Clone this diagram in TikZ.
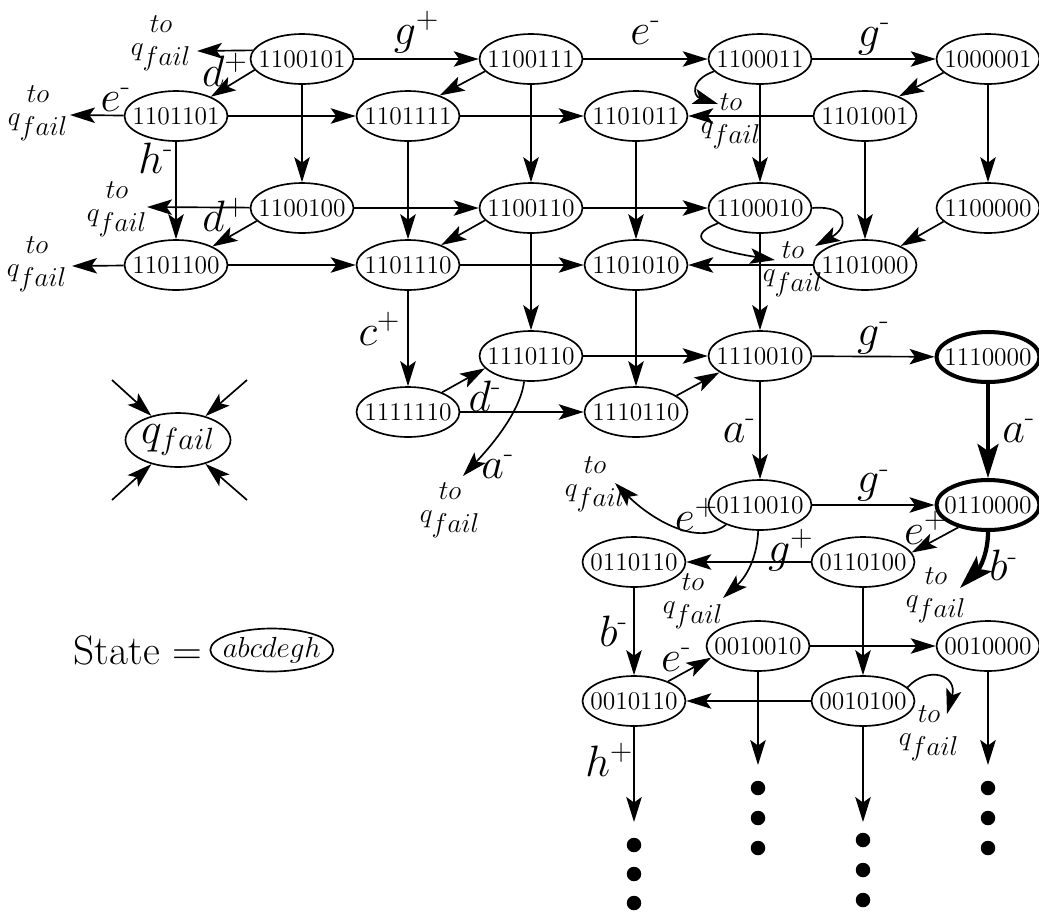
\RequirePackage{fix-cm}
\documentclass[tikz,border=0pt]{standalone}
\usepackage{amsmath}
\usepackage{tikz}
\usetikzlibrary{shapes.geometric, arrows.meta, positioning}
\newcommand{\qfail}{q_{\textstyle fail}}
\newcommand{\supminus}{\text{-}}

\begin{document}
\begin{tikzpicture}[
    x=0.02cm, y=-0.02cm,
    every node/.style={font=\fontsize{14.5}{16}\selectfont},
    state/.style={draw, ellipse, line width=0.95pt, minimum width=2.06cm, minimum height=1cm, inner xsep=-5pt, inner ysep=0pt},
    heavy/.style={state, line width=2.3pt},
    lbl/.style={font=\fontsize{25}{28}\selectfont, inner sep=0pt},
    fl/.style={align=center, font=\fontsize{15.5}{13.5}\selectfont, inner sep=0pt},
    arrow/.style={-{Stealth[length=5mm, width=3.1mm, inset=1.1mm]}, line width=0.95pt},
    bold arrow/.style={-{Stealth[length=6.8mm, width=4.2mm, inset=1.4mm]}, line width=2.4pt}
]
    \useasboundingbox (0,0) rectangle (1039,914);

    % Row 1
    \node[state] (n1100101) at (302,59) {1100101};
    \node[state] (n1100111) at (531,59) {1100111};
    \node[state] (n1100011) at (760,59) {1100011};
    \node[state] (n1000001) at (988,59) {1000001};

    % Row 2
    \node[state] (n1101101) at (176,116) {1101101};
    \node[state] (n1101111) at (408,116) {1101111};
    \node[state] (n1101011) at (636,116) {1101011};
    \node[state] (n1101001) at (865,116) {1101001};

    % Row 3
    \node[state] (n1100100) at (302,208) {1100100};
    \node[state] (n1100110) at (531,208) {1100110};
    \node[state] (n1100010) at (760,208) {1100010};
    \node[state] (n1100000) at (988,208) {1100000};

    % Row 4
    \node[state] (n1101100) at (176,265) {1101100};
    \node[state] (n1101110) at (408,265) {1101110};
    \node[state] (n1101010) at (636,265) {1101010};
    \node[state] (n1101000) at (865,265) {1101000};

    % Rows 5 and 6
    \node[state] (n1110110) at (531,356) {1110110};
    \node[state] (n1110010) at (760,356) {1110010};
    \node[heavy] (n1110000) at (988,357) {1110000};
    \node[state] (n1111110) at (408,412) {1111110};
    \node[state] (m1110110) at (636,412) {1110110};

    % Rows 7 and 8
    \node[state] (n0110010) at (760,505) {0110010};
    \node[heavy] (n0110000) at (988,505) {0110000};
    \node[state] (n0110110) at (634,562) {0110110};
    \node[state] (n0110100) at (863,562) {0110100};

    % Rows 9 and 10
    \node[state] (n0010010) at (758,646) {0010010};
    \node[state] (n0010000) at (988,646) {0010000};
    \node[state] (n0010110) at (634,701) {0010110};
    \node[state] (n0010100) at (863,701) {0010100};

    % Fail state and legend
    \node[state, minimum width=2.1cm, minimum height=1.08cm, font=\fontsize{25}{28}\selectfont] (qf) at (178,440) {$q_{fail}$};
    \coordinate (qa) at (112,380);
    \coordinate (qb) at (247,380);
    \coordinate (qc) at (112,500);
    \coordinate (qd) at (247,500);
    \node[font=\fontsize{23.5}{26}\selectfont, inner sep=0pt] (stxt) at (138,650) {State =};
    \node[state, right=4pt of stxt, minimum width=2.46cm, minimum height=0.86cm, font=\fontsize{16.5}{18}\selectfont] (sfmt) {$abcdegh$};

    % "to q_fail" ends
    \coordinate (f1) at (197,51);
    \coordinate (f2) at (70,115);
    \coordinate (f3) at (718,104);
    \coordinate (f4) at (147,207);
    \coordinate (f5) at (72,266);
    \coordinate (f6a) at (815,246);
    \coordinate (f6b) at (775,260);
    \coordinate (f7) at (463,476);
    \coordinate (f8) at (615,483);
    \coordinate (f9) at (723,598);
    \coordinate (f10) at (960,588);
    \coordinate (f11) at (947,714);
    \node[fl] (t1) at (161,43) {$to$\\$\qfail$};
    \node[fl] (t2) at (38,113) {$to$\\$\qfail$};
    \node[fl] (t3) at (731,121) {$to$\\$\qfail$};
    \node[fl] (t4) at (117,209) {$to$\\$\qfail$};
    \node[fl] (t5) at (37,264) {$to$\\$\qfail$};
    \node[fl] (t6) at (793,269) {$to$\\$\qfail$};
    \node[fl] (t7) at (450,510) {$to$\\$\qfail$};
    \node[fl] (t8) at (595,484) {$to$\\$\qfail$};
    \node[fl] (t9) at (693,601) {$to$\\$\qfail$};
    \node[fl] (t10) at (936,595) {$to$\\$\qfail$};
    \node[fl] (t11) at (929,733) {$to$\\$\qfail$};

    % Continuation ends
    \coordinate (d1) at (634,822);
    \coordinate (d2) at (758,765);
    \coordinate (d3) at (863,822);
    \coordinate (d4) at (988,765);
    \foreach \x/\y in {634/845, 634/874, 634/903, 758/788, 758/818, 758/848, 863/840, 863/870, 863/900, 988/788, 988/818, 988/848}
        \fill (\x,\y) circle[radius=0.145cm];

    % Arrows, row 1
    \draw[arrow] (n1100101) -- node[lbl, above=3pt] {$g^{+}$} (n1100111);
    \draw[arrow] (n1100111) -- node[lbl, above=8pt] {$e^{\supminus}$} (n1100011);
    \draw[arrow] (n1100011) -- node[lbl, above=2pt] {$g^{\supminus}$} (n1000001);
    \draw[arrow] (n1100101.170) -- node[lbl, below=1pt] {$d^{+}$} (f1);
    \draw[arrow] (n1100101.193) -- (n1101101.29);
    \draw[arrow] (n1100101) -- (n1100100);
    \draw[arrow] (n1100111.195) -- (n1101111.33);
    \draw[arrow] (n1100111) -- (n1100110);
    \draw[arrow] (n1100011) -- (n1100010);
    \draw[arrow] (n1100011.195) .. controls (690,80) and (693,96) .. (f3);
    \draw[arrow] (n1000001.197) -- (n1101001.30);
    \draw[arrow] (n1000001) -- (n1100000);

    % Arrows, row 2
    \draw[arrow] (n1101101) -- node[lbl, above=2pt, pos=0.15] {$e^{\supminus}$} (f2);
    \draw[arrow] (n1101101) -- (n1101111);
    \draw[arrow] (n1101101) -- node[lbl, left=1pt, pos=0.17] {$h^{\supminus}$} (n1101100);
    \draw[arrow] (n1101111) -- (n1101011);
    \draw[arrow] (n1101111) -- (n1101110);
    \draw[arrow] (n1101011) -- (n1101010);
    \draw[arrow] (n1101001) -- (n1101011);
    \draw[arrow] (n1101001) -- (n1101000);

    % Arrows, row 3
    \draw[arrow] (n1100100) -- node[lbl, below=-6pt, pos=0.24] {$d^{+}$} (f4);
    \draw[arrow] (n1100100.196) -- (n1101100.27);
    \draw[arrow] (n1100100) -- (n1100110);
    \draw[arrow] (n1100110.195) -- (n1101110.31);
    \draw[arrow] (n1100110) -- (n1100010);
    \draw[arrow] (n1100110) -- (n1110110);
    \draw[arrow] (n1100010) -- (n1110010);
    \draw[arrow] (n1100010.east) .. controls (850,205) and (848,228) .. (f6a);
    \draw[arrow] (n1100010.200) .. controls (680,238) and (712,250) .. (f6b);
    \draw[arrow] (n1100000.197) -- (n1101000.28);

    % Arrows, row 4
    \draw[arrow] (n1101100) -- (f5);
    \draw[arrow] (n1101100) -- (n1101110);
    \draw[arrow] (n1101110) -- (n1101010);
    \draw[arrow] (n1101110) -- node[lbl, left=4pt, pos=0.4] {$c^{+}$} (n1111110);
    \draw[arrow] (n1101000) -- (n1101010);
    \draw[arrow] (n1101010) -- (m1110110);

    % Arrows, rows 5 and 6
    \draw[arrow] (n1110110) -- (n1110010);
    \draw[arrow] (n1111110.30) -- (n1110110.195);
    \draw[arrow] (n1111110) -- node[lbl, above=0pt, pos=0.2] {$d^{\supminus}$} (m1110110);
    \draw[arrow] (n1110110.255) .. controls (520,412) and (492,445) .. node[lbl, right=5pt, pos=0.9] {$a^{\supminus}$} (f7);
    \draw[arrow] (m1110110.22) -- (n1110010.202);
    \draw[arrow] (n1110010) -- node[lbl, above=1pt] {$g^{\supminus}$} (n1110000);
    \draw[arrow] (n1110010) -- node[lbl, left=2pt] {$a^{\supminus}$} (n0110010);
    \draw[bold arrow] (n1110000) -- node[lbl, right=7pt] {$a^{\supminus}$} (n0110000);

    % Arrows, rows 7 and 8
    \draw[arrow] (n0110010) -- node[lbl, above=1.5pt] {$g^{\supminus}$} (n0110000);
    \draw[arrow] (n0110010.210) .. controls (698,548) and (650,518) .. node[lbl, above=0pt, pos=0.3] {$e^{+}$} (f8);
    \draw[arrow] (n0110010.266) .. controls (757,560) and (745,578) .. (f9);
    \draw[arrow] (n0110000.217) -- node[lbl, above=0pt, pos=0.7] {$e^{+}$} (n0110100.11);
    \draw[bold arrow] (n0110000.270) .. controls (988,553) and (980,568) .. node[lbl, right=5pt, pos=0.6] {$b^{\supminus}$} (f10);
    \draw[arrow] (n0110100) -- node[lbl, anchor=base, pos=0.16] {$g^{+}$} (n0110110);
    \draw[arrow] (n0110110) -- node[lbl, left=3pt] {$b^{\supminus}$} (n0010110);
    \draw[arrow] (n0110100) -- (n0010100);

    % Arrows, rows 9 and 10
    \draw[arrow] (n0010010) -- (n0010000);
    \draw[arrow] (n0010110.30) -- node[lbl, above left=-2pt] {$e^{\supminus}$} (n0010010.194);
    \draw[arrow] (n0010100) -- (n0010110);
    \draw[arrow] (n0010100.17) .. controls (928,665) and (958,675) .. (f11);
    \draw[arrow] (n0010110) -- node[lbl, left=0pt, pos=0.35] {$h^{+}$} (d1);
    \draw[arrow] (n0010010) -- (d2);
    \draw[arrow] (n0010100) -- (d3);
    \draw[arrow] (n0010000) -- (d4);

    % Into the fail state
    \draw[arrow] (qa) -- (qf);
    \draw[arrow] (qb) -- (qf);
    \draw[arrow] (qc) -- (qf);
    \draw[arrow] (qd) -- (qf);
\end{tikzpicture}
\end{document}
